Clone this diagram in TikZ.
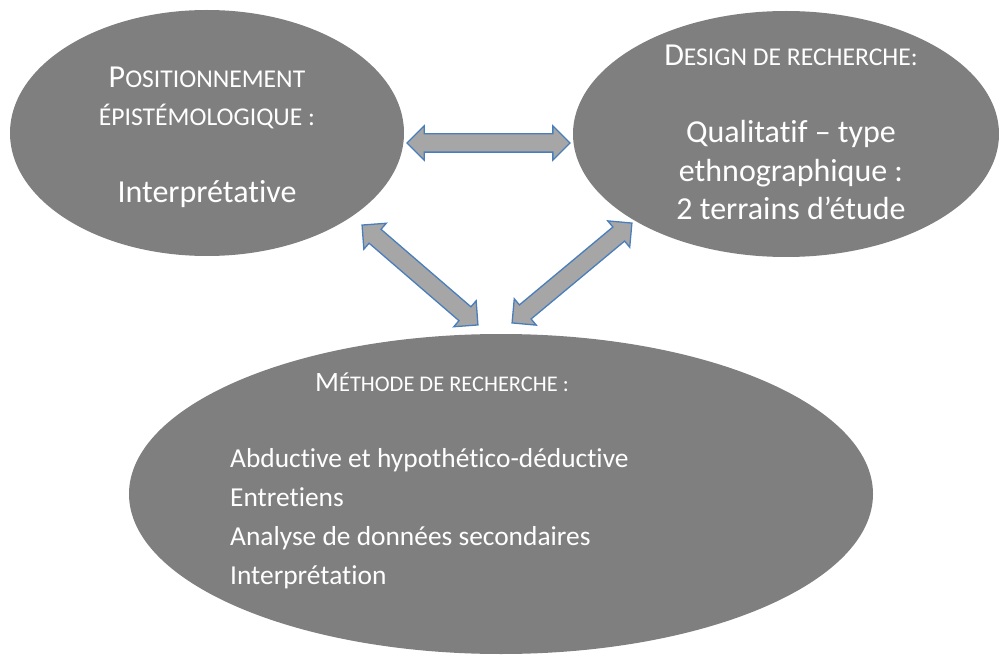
\documentclass[tikz,border=0pt]{standalone}
\usepackage{fontspec}
\setmainfont{Carlito}[Ligatures=NoCommon]
\usetikzlibrary{shapes.geometric,shapes.arrows,positioning}

\definecolor{ovalgray}{HTML}{7F7F7F}
\definecolor{arrowfill}{HTML}{A6A6A6}
\definecolor{arrowline}{HTML}{4A7EBB}

% small capitals as drawn by the slide
\newcommand{\smallcap}[1]{{\fontsize{25.6}{38.5}\selectfont #1}}
\newcommand{\smallcapb}[1]{{\fontsize{22.4}{39}\selectfont #1}}

\begin{document}
\begin{tikzpicture}[
    x=1pt, y=-1pt,
    oval/.style={ellipse, fill=ovalgray, inner sep=0pt},
    txt/.style={text=white, font=\fontsize{32}{38.5}\selectfont, inner sep=0pt, anchor=base},
    txtb/.style={text=white, font=\fontsize{27.4}{39}\selectfont, inner sep=0pt, anchor=base},
    darrow/.style={double arrow, draw=arrowline, fill=arrowfill, line width=1.3pt, inner xsep=0pt, inner ysep=8.5pt, double arrow head extend=8pt, outer sep=0pt, sloped}
]
    \useasboundingbox (0,0) rectangle (999,655);

    % Ellipses
    \node [oval, minimum width=394pt, minimum height=246pt] (epist) at (207,133) {};
    \node [oval, minimum width=426pt, minimum height=246pt] (design) at (786,134) {};
    \node [oval, minimum width=744pt, minimum height=320pt] (methode) at (501,494) {};

    % Texts (base = last line)
    \node [txt, align=center] (epist_txt) at (207,203)
        {P\smallcap{OSITIONNEMENT}\\ \smallcap{ÉPISTÉMOLOGIQUE :}\\[38.5pt] Interprétative};
    \node [txt, align=center] (design_txt) at (791,220)
        {D\smallcap{ESIGN DE RECHERCHE:}\\[38.5pt] Qualitatif – type\\ ethnographique :\\ 2 terrains d’étude};
    \node [txtb, font=\fontsize{28}{39}\selectfont] (methode_title) at (442,391) {M\smallcapb{ÉTHODE DE RECHERCHE :}};
    \node [txtb, align=left, anchor=base west] (methode_txt) at (230,584)
        {Abductive et hypothético-déductive\\ Entretiens\\ Analyse de données secondaires\\ Interprétation};

    % Arrows between the ellipses
    \coordinate (top_l) at (407,143);
    \coordinate (top_r) at (570,143);
    \coordinate (left_a) at (362,225);
    \coordinate (left_b) at (478,325);
    \coordinate (right_a) at (632,223);
    \coordinate (right_b) at (512,323);
    \path (top_l) -- node [darrow, minimum height=163pt] (arr_top) {} (top_r);
    \path (left_a) -- node [darrow, minimum height=153pt] (arr_left) {} (left_b);
    \path (right_a) -- node [darrow, minimum height=156pt] (arr_right) {} (right_b);
\end{tikzpicture}
\end{document}
